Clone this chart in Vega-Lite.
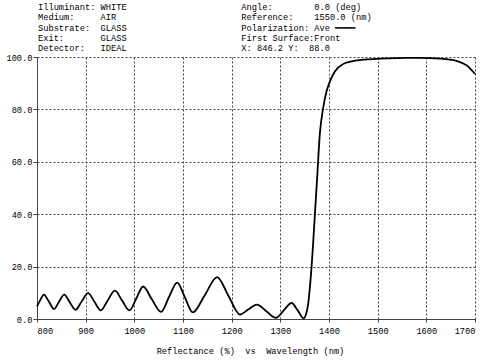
{
  "$schema": "https://vega.github.io/schema/vega-lite/v6.json",
  "width": 438,
  "height": 262,
  "autosize": {"type": "none"},
  "padding": {"left": 37, "top": 57, "right": 25, "bottom": 41},
  "background": "white",
  "config": {
    "view": {"stroke": null},
    "font": "Liberation Mono",
    "axis": {
      "labelFont": "Liberation Mono",
      "labelFontSize": 8.7,
      "labelColor": "#000",
      "titleFont": "Liberation Mono",
      "titleFontSize": 8.7,
      "titleFontWeight": "normal",
      "titleColor": "#000",
      "domainColor": "#444",
      "tickColor": "#444",
      "gridColor": "#444",
      "gridDash": [2, 2],
      "gridOpacity": 1,
      "gridWidth": 1
    }
  },
  "title": {
    "text": [
      "Illuminant:\u00a0WHITE\u00a0\u00a0\u00a0\u00a0\u00a0\u00a0\u00a0\u00a0\u00a0\u00a0\u00a0\u00a0\u00a0\u00a0\u00a0\u00a0\u00a0\u00a0\u00a0\u00a0\u00a0\u00a0Angle:\u00a0\u00a0\u00a0\u00a0\u00a0\u00a0\u00a0\u00a00.0\u00a0(deg)",
      "Medium:\u00a0\u00a0\u00a0\u00a0\u00a0AIR\u00a0\u00a0\u00a0\u00a0\u00a0\u00a0\u00a0\u00a0\u00a0\u00a0\u00a0\u00a0\u00a0\u00a0\u00a0\u00a0\u00a0\u00a0\u00a0\u00a0\u00a0\u00a0\u00a0\u00a0Reference:\u00a0\u00a0\u00a0\u00a01550.0\u00a0(nm)",
      "Substrate:\u00a0\u00a0GLASS\u00a0\u00a0\u00a0\u00a0\u00a0\u00a0\u00a0\u00a0\u00a0\u00a0\u00a0\u00a0\u00a0\u00a0\u00a0\u00a0\u00a0\u00a0\u00a0\u00a0\u00a0\u00a0Polarization:\u00a0Ave\u00a0\u2501\u2501\u2501\u2501",
      "Exit:\u00a0\u00a0\u00a0\u00a0\u00a0\u00a0\u00a0GLASS\u00a0\u00a0\u00a0\u00a0\u00a0\u00a0\u00a0\u00a0\u00a0\u00a0\u00a0\u00a0\u00a0\u00a0\u00a0\u00a0\u00a0\u00a0\u00a0\u00a0\u00a0\u00a0First\u00a0Surface:Front",
      "Detector:\u00a0\u00a0\u00a0IDEAL\u00a0\u00a0\u00a0\u00a0\u00a0\u00a0\u00a0\u00a0\u00a0\u00a0\u00a0\u00a0\u00a0\u00a0\u00a0\u00a0\u00a0\u00a0\u00a0\u00a0\u00a0\u00a0X:\u00a0846.2\u00a0Y:\u00a0\u00a088.0"
    ],
    "anchor": "start",
    "frame": "group",
    "font": "Liberation Mono",
    "fontSize": 8.7,
    "fontWeight": "normal",
    "color": "#000",
    "lineHeight": 10.3,
    "offset": 0,
    "dx": 1
  },
  "data": {
    "values": [
      {"wavelength": 800, "R": 4.8},
      {"wavelength": 807, "R": 7.3},
      {"wavelength": 814, "R": 9.3},
      {"wavelength": 824, "R": 6.8},
      {"wavelength": 835, "R": 3.8},
      {"wavelength": 845, "R": 6.5},
      {"wavelength": 856, "R": 9.3},
      {"wavelength": 867, "R": 6.5},
      {"wavelength": 879, "R": 3.5},
      {"wavelength": 892, "R": 6.8},
      {"wavelength": 905, "R": 9.9},
      {"wavelength": 918, "R": 6.6},
      {"wavelength": 931, "R": 3.3},
      {"wavelength": 945, "R": 7.0},
      {"wavelength": 960, "R": 10.8},
      {"wavelength": 975, "R": 7.0},
      {"wavelength": 990, "R": 3.3},
      {"wavelength": 1004, "R": 7.8},
      {"wavelength": 1018, "R": 12.4},
      {"wavelength": 1036, "R": 7.5},
      {"wavelength": 1055, "R": 2.7},
      {"wavelength": 1071, "R": 8.3},
      {"wavelength": 1088, "R": 13.9},
      {"wavelength": 1104, "R": 8.2},
      {"wavelength": 1120, "R": 2.5},
      {"wavelength": 1145, "R": 9.2},
      {"wavelength": 1170, "R": 16.0},
      {"wavelength": 1193, "R": 9.0},
      {"wavelength": 1217, "R": 1.7},
      {"wavelength": 1234, "R": 3.6},
      {"wavelength": 1252, "R": 5.5},
      {"wavelength": 1271, "R": 3.0},
      {"wavelength": 1291, "R": 0.4},
      {"wavelength": 1307, "R": 3.3},
      {"wavelength": 1323, "R": 6.1},
      {"wavelength": 1336, "R": 3.2},
      {"wavelength": 1348, "R": 0.2},
      {"wavelength": 1353, "R": 2.0},
      {"wavelength": 1357, "R": 5.5},
      {"wavelength": 1364, "R": 19.5},
      {"wavelength": 1371, "R": 39.8},
      {"wavelength": 1376, "R": 55.0},
      {"wavelength": 1381, "R": 70.3},
      {"wavelength": 1388, "R": 80.5},
      {"wavelength": 1395, "R": 86.9},
      {"wavelength": 1402, "R": 90.7},
      {"wavelength": 1412, "R": 94.5},
      {"wavelength": 1429, "R": 97.3},
      {"wavelength": 1457, "R": 98.7},
      {"wavelength": 1498, "R": 99.3},
      {"wavelength": 1525, "R": 99.5},
      {"wavelength": 1560, "R": 99.7},
      {"wavelength": 1587, "R": 99.7},
      {"wavelength": 1628, "R": 99.4},
      {"wavelength": 1662, "R": 98.5},
      {"wavelength": 1683, "R": 96.8},
      {"wavelength": 1700, "R": 93.5}
    ]
  },
  "mark": {"type": "line", "color": "#000", "strokeWidth": 1.8, "interpolate": "monotone"},
  "encoding": {
    "x": {
      "field": "wavelength",
      "type": "quantitative",
      "scale": {"domain": [800, 1700], "nice": false, "zero": false},
      "axis": {
        "values": [800, 900, 1000, 1100, 1200, 1300, 1400, 1500, 1600, 1700],
        "format": "d",
        "grid": true,
        "tickSize": 3,
        "labelPadding": 4,
        "title": "Reflectance\u00a0(%)\u00a0\u00a0vs\u00a0\u00a0Wavelength\u00a0(nm)",
        "titleX": 213,
        "titleY": 31,
        "titleBaseline": "middle",
        "titleAnchor": "middle"
      }
    },
    "y": {
      "field": "R",
      "type": "quantitative",
      "scale": {"domain": [0, 100], "nice": false},
      "axis": {
        "values": [0, 20, 40, 60, 80, 100],
        "format": ".1f",
        "grid": true,
        "tickSize": 4,
        "labelPadding": 1,
        "title": null
      }
    }
  }
}
